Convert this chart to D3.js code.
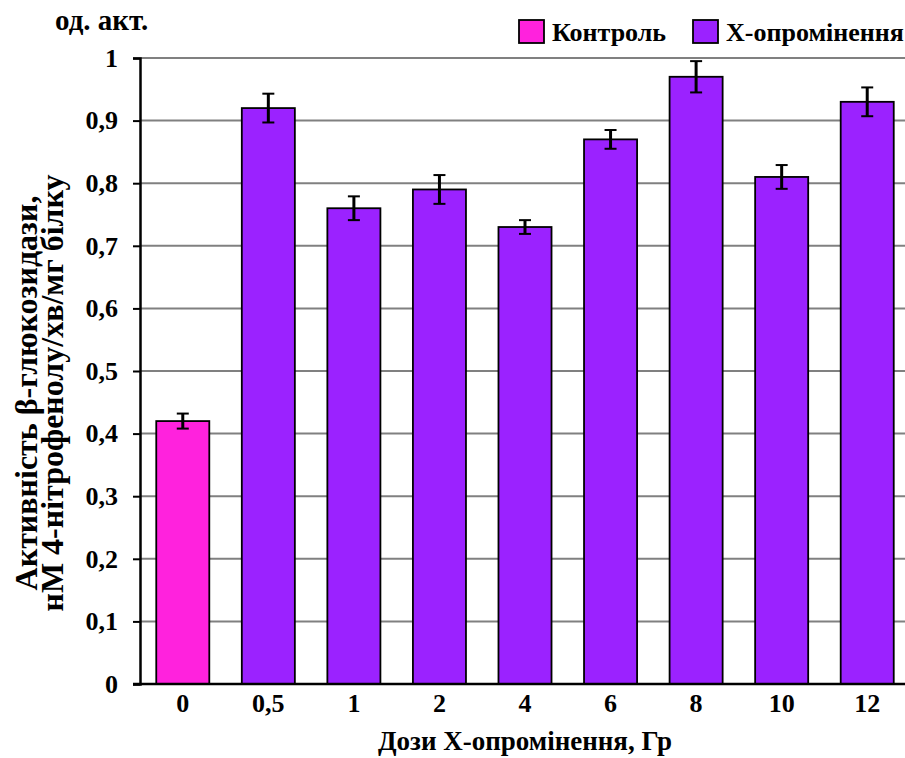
<!DOCTYPE html>
<html>
<head>
<meta charset="utf-8">
<script src="https://cdn.jsdelivr.net/npm/d3@7"></script>
<style>
  html, body { margin: 0; padding: 0; background: #fff; }
  svg { display: block; }
  svg text { font-family: "Liberation Serif", "Times New Roman", serif; font-weight: bold; fill: #000; }
  .tick text { font-size: 26px; }
</style>
</head>
<body>
<svg id="chart" width="905" height="758"></svg>
<script>
// Doses of X-irradiation, Gy
const doses = ["0", "0,5", "1", "2", "4", "6", "8", "10", "12"];
// β-glucosidase activity (mean values)
const activity = [0.42, 0.92, 0.76, 0.79, 0.73, 0.87, 0.97, 0.81, 0.93];
// error half-widths
const errors = [0.012, 0.023, 0.019, 0.023, 0.011, 0.015, 0.025, 0.019, 0.023];
// group of each bar
const groups = ["Контроль", "Х-опромінення", "Х-опромінення", "Х-опромінення", "Х-опромінення",
                "Х-опромінення", "Х-опромінення", "Х-опромінення", "Х-опромінення"];
const legendItems = ["Контроль", "Х-опромінення"];
const yTicks = [0, 0.1, 0.2, 0.3, 0.4, 0.5, 0.6, 0.7, 0.8, 0.9, 1];

const colors = { "Контроль": "#ff22dd", "Х-опромінення": "#9b22ff" };

const svg = d3.select("#chart");
const plotLeft = 140, plotRight = 910, plotTop = 58, plotBottom = 684;

const x = d3.scaleBand().domain(doses).range([plotLeft, plotRight]).paddingInner(0.38).paddingOuter(0.19);
const y = d3.scaleLinear().domain([0, 1]).range([plotBottom, plotTop]);

// horizontal grid lines
svg.append("g").selectAll("line").data(yTicks.filter(t => t > 0)).join("line")
  .attr("x1", plotLeft).attr("x2", 905)
  .attr("y1", d => y(d)).attr("y2", d => y(d))
  .attr("stroke", "#808080").attr("stroke-width", 2);

// bars
const fmt = d => d3.format(".1f")(d).replace(".", ",").replace(/^0,0$/, "0").replace(/^1,0$/, "1");
svg.append("g").selectAll("rect").data(activity).join("rect")
  .attr("x", (d, i) => x(doses[i]))
  .attr("y", d => y(d))
  .attr("width", x.bandwidth())
  .attr("height", d => y(0) - y(d))
  .attr("fill", (d, i) => colors[groups[i]])
  .attr("stroke", "#000").attr("stroke-width", 1.8);

// error bars
const eb = svg.append("g").selectAll("g").data(activity).join("g")
  .attr("transform", (d, i) => `translate(${x(doses[i]) + x.bandwidth() / 2},0)`);
eb.append("line")
  .attr("y1", (d, i) => y(d + errors[i])).attr("y2", (d, i) => y(d - errors[i]))
  .attr("stroke", "#000").attr("stroke-width", 3);
eb.append("line").attr("x1", -6).attr("x2", 6)
  .attr("y1", (d, i) => y(d + errors[i])).attr("y2", (d, i) => y(d + errors[i]))
  .attr("stroke", "#000").attr("stroke-width", 2);
eb.append("line").attr("x1", -6).attr("x2", 6)
  .attr("y1", (d, i) => y(d - errors[i])).attr("y2", (d, i) => y(d - errors[i]))
  .attr("stroke", "#000").attr("stroke-width", 2);

// y axis
const yAxis = svg.append("g").attr("transform", `translate(${plotLeft},0)`)
  .call(d3.axisLeft(y).tickValues(yTicks).tickSize(7).tickPadding(15).tickFormat(fmt))
  .attr("font-size", 26).attr("font-family", "Liberation Serif").attr("font-weight", "bold");
yAxis.select(".domain").attr("stroke", "#000").attr("stroke-width", 2.5);
yAxis.selectAll(".tick line").attr("stroke", "#000").attr("stroke-width", 2);
yAxis.selectAll("text").attr("font-size", 26);

// x axis
const xAxis = svg.append("g").attr("transform", `translate(0,${plotBottom})`)
  .call(d3.axisBottom(x).tickSize(0).tickPadding(10))
  .attr("font-size", 26).attr("font-family", "Liberation Serif").attr("font-weight", "bold");
xAxis.select(".domain").remove();
svg.append("line").attr("x1", 133).attr("x2", 905).attr("y1", plotBottom).attr("y2", plotBottom)
  .attr("stroke", "#000").attr("stroke-width", 2.5);
xAxis.selectAll("text").attr("font-size", 26);

// unit label
svg.append("text").attr("x", 55).attr("y", 30).style("font-size", "29px").text("од. акт.");

// y axis title
const yt = svg.append("text").attr("transform", "translate(0,393) rotate(-90)")
  .attr("text-anchor", "middle").style("font-size", "32px");
yt.append("tspan").attr("x", 0).attr("y", 37).text("Активність β-глюкозидази,");
yt.append("tspan").attr("x", 0).attr("y", 63).text("нМ 4-нітрофенолу/хв/мг білку");

// x axis title
svg.append("text").attr("x", 525).attr("y", 750).attr("text-anchor", "middle")
  .style("font-size", "27px").text("Дози Х-опромінення, Гр");

// legend
const legendX = [519, 693];
const lg = svg.append("g").selectAll("g").data(legendItems).join("g")
  .attr("transform", (d, i) => `translate(${legendX[i]},20)`);
lg.append("rect").attr("width", 25).attr("height", 23)
  .attr("fill", d => colors[d]).attr("stroke", "#000").attr("stroke-width", 1.8);
lg.append("text").attr("x", 33).attr("y", 21).style("font-size", "26px").text(d => d);
</script>
</body>
</html>
